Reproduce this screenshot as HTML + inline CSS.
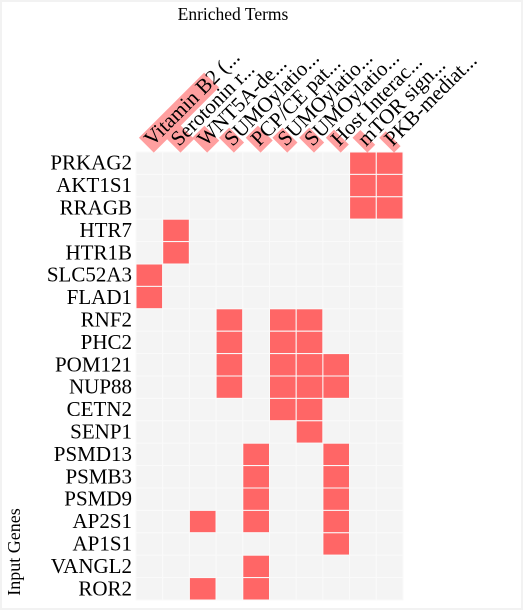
<!DOCTYPE html>
<html><head><meta charset="utf-8"><style>
html,body{margin:0;padding:0;background:#fff;}
svg{display:block;font-family:"Liberation Serif",serif;}
</style></head><body>
<svg id="chart" width="523" height="610">
<rect x="1" y="1" width="521" height="608" fill="#fff" stroke="#f2f2f2" stroke-width="2"/>
<text x="233" y="20" font-size="17.5" text-anchor="middle">Enriched Terms</text>
<text transform="translate(20,552) rotate(-90)" font-size="18" text-anchor="middle">Input Genes</text>
<g id="grid"></g><g id="cols"></g><g id="rows"></g>
</svg>
<script>
const terms = ["Vitamin B2 (...","Serotonin r...","WNT5A-de...","SUMOylatio...","PCP/CE pat...","SUMOylatio...","SUMOylatio...","Host Interac...","mTOR sign...","PKB-mediat..."];
const termScores = [1.0,0.16,0.13,0.1,0.13,0.1,0.1,0.08,0.08,0.06];
const genes = ["PRKAG2","AKT1S1","RRAGB","HTR7","HTR1B","SLC52A3","FLAD1","RNF2","PHC2","POM121","NUP88","CETN2","SENP1","PSMD13","PSMB3","PSMD9","AP2S1","AP1S1","VANGL2","ROR2"];
const hits = [[8,9],[8,9],[8,9],[1],[1],[0],[0],[3,5,6],[3,5,6],[3,5,6,7],[3,5,6,7],[5,6],[6],[4,7],[4,7],[4,7],[2,4,7],[7],[4],[2,4]];
const NS="http://www.w3.org/2000/svg";
const x0=136,x1=403,y0=152,y1=600;
const cw=(x1-x0)/terms.length, rh=(y1-y0)/genes.length;
const xPos=i=>x0+i*cw, yPos=j=>y0+j*rh;
const grid=document.getElementById('grid'),cols=document.getElementById('cols'),rows=document.getElementById('rows');
function mk(t,a){const e=document.createElementNS(NS,t);for(const k in a)e.setAttribute(k,a[k]);return e;}
genes.forEach((g,j)=>{
  terms.forEach((t,i)=>{
    const on=hits[j].includes(i);
    const r=mk('rect',{x:xPos(i),y:yPos(j),width:cw,height:rh,fill:on?'#ff6666':'#f4f4f4',stroke:'#fafafa','stroke-width':1});
    
    
    grid.appendChild(r);
  });
  const tx=mk('text',{x:132,y:yPos(j)+rh/2+6.5,'font-size':21,'text-anchor':'end'});
  tx.textContent=g;
  
  
  rows.appendChild(tx);
});
terms.forEach((t,i)=>{
  const g=mk('g',{transform:`translate(${xPos(i)+cw/2+3},147) rotate(-45)`});
  
  
  const tx=mk('text',{x:0,y:0,'font-size':21});
  tx.textContent=t;
  g.appendChild(tx);
  cols.appendChild(g);
  const w=tx.getComputedTextLength();
  const bw=i===0?w*0.72:w*termScores[i];
  const hl=mk('rect',{x:-3,y:-16,width:bw+2,height:21,fill:'#ff9f9f'});
  
  
  g.insertBefore(hl,tx);
});
</script>
</body></html>
